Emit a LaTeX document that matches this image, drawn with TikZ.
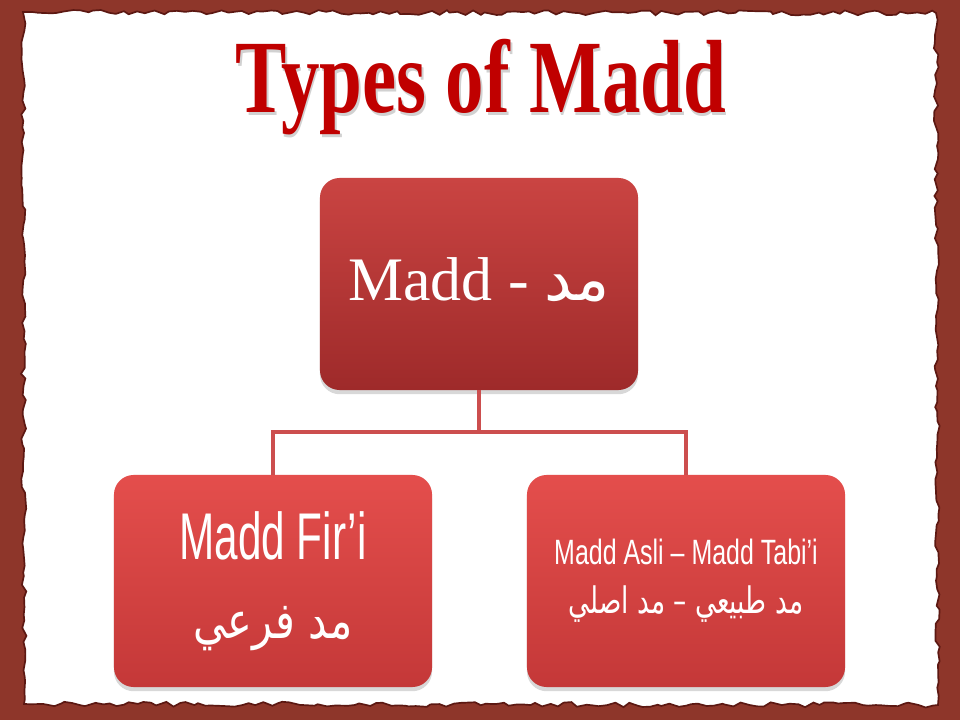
\documentclass[tikz,border=0pt]{standalone}
\usepackage{fontspec}
\setmainfont{Liberation Serif}
\newfontfamily\titlefont{Liberation Serif}
\newfontfamily\narrowfont{Liberation Sans}
\newfontfamily\arabicfont[Script=Arabic]{DejaVu Sans}
\TeXXeTstate=1
\usetikzlibrary{positioning}
\usetikzlibrary{shadows}
\usetikzlibrary{decorations.pathmorphing}

\definecolor{framebrown}{RGB}{142,54,42}
\definecolor{frameedge}{RGB}{92,24,18}
\definecolor{titlered}{RGB}{192,0,0}
\definecolor{topA}{RGB}{202,68,66}
\definecolor{topB}{RGB}{158,42,42}
\definecolor{subA}{RGB}{228,78,76}
\definecolor{subB}{RGB}{196,56,56}
\definecolor{linkred}{RGB}{204,78,78}

\newcommand{\ar}[1]{{\arabicfont\beginR #1\endR}}
\newcommand{\shadowed}[1]{\makebox[0pt][l]{\kern1.5pt\raisebox{-2pt}{\textcolor{black!18}{#1}}}#1}

\begin{document}
\begin{tikzpicture}[x=0.025cm, y=-0.025cm]
  \tikzset{box/.style={rectangle, rounded corners=14pt, minimum width=7.95cm, minimum height=5.3cm,
                       text=white, align=center, inner sep=0pt,
                       drop shadow={shadow xshift=0pt, shadow yshift=-3pt, opacity=0.3}},
           topbox/.style={box, top color=topA, bottom color=topB},
           subbox/.style={box, top color=subA, bottom color=subB},
           link/.style={draw=linkred, line width=2.2pt}}

  \useasboundingbox (0,0) rectangle (960,720);

  %--- torn paper frame ---
  \fill[framebrown] (0,0) rectangle (960,720);
  \pgfmathsetseed{11}
  \fill[white, draw=frameedge, line width=1.2pt,
        decorate, decoration={random steps, segment length=5pt, amplitude=1.8pt}]
    (23,12) -- (936,13) -- (938,705) -- (24,704) -- cycle;

  %--- title ---
  \node[text=titlered] (title) at (481,89)
    {\titlefont\bfseries\fontsize{74}{80}\selectfont\scalebox{0.74}[1]{\shadowed{Types of Madd}}};

  %--- boxes ---
  \node[topbox] (madd) at (479,284)
    {\raisebox{7pt}{\fontsize{44}{50}\selectfont Madd - \ar{مد}}};
  \node[subbox] (firi) at (273,581)
    {\narrowfont\fontsize{47}{62}\selectfont\scalebox{0.64}[1]{Madd Fir’i}\\[32pt]
     \scalebox{0.82}[1]{\ar{\fontsize{36}{40}\selectfont مد فرعي}}};
  \node[subbox] (asli) at (686,581)
    {\narrowfont\fontsize{25}{36}\selectfont\scalebox{0.71}[1]{Madd Asli – Madd Tabi’i}\\[14pt]
     \scalebox{0.72}[1]{\ar{\fontsize{26}{30}\selectfont مد طبيعي – مد اصلي}}};

  %--- connectors ---
  \coordinate (split) at (479,432);
  \draw[link] (madd.south) -- (split);
  \draw[link] (split) -| (firi.north);
  \draw[link] (split) -| (asli.north);
\end{tikzpicture}
\end{document}
